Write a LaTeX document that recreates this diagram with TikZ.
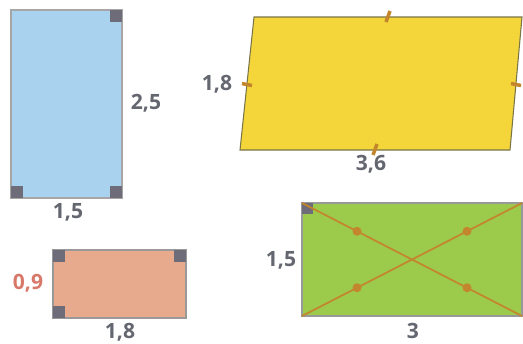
\documentclass[tikz,border=0pt]{standalone}
\usepackage{fontspec}
\setmainfont{Open Sans}
\usetikzlibrary{calc}
\definecolor{bluefill}{HTML}{A8D2EE}
\definecolor{yellowfill}{HTML}{F4D53A}
\definecolor{salmonfill}{HTML}{E8AA8C}
\definecolor{greenfill}{HTML}{9CCB4C}
\definecolor{tickcol}{HTML}{C4862C}
\definecolor{cornercol}{HTML}{6E6C78}
\definecolor{labelgray}{HTML}{646670}
\definecolor{labelred}{HTML}{D8786A}
\tikzset{
  shapeedge/.style={draw=#1, line width=0.6pt},
  rightangle/.style={fill=cornercol},
  dimlabel/.style={text=labelgray, font=\fontsize{12}{12}\selectfont\bfseries, inner sep=1pt},
  tickmark/.style={draw=tickcol, line width=2pt}
}
\begin{document}
\begin{tikzpicture}[x=0.02cm,y=-0.02cm]
\useasboundingbox (0,0) rectangle (523,343);
% blue rectangle
\filldraw[fill=bluefill, shapeedge=gray!70] (11,10) rectangle (122,198);
\fill[rightangle] (110,10) rectangle (122,22);
\fill[rightangle] (11,186) rectangle (23,198);
\fill[rightangle] (110,186) rectangle (122,198);
\node[dimlabel] (blueh) at (146,103) {2,5};
\node[dimlabel] (bluew) at (68,212) {1,5};

% yellow parallelogram
\coordinate (ya) at (254,17);
\coordinate (yb) at (522,17);
\coordinate (yc) at (510,150);
\coordinate (yd) at (240,150);
\filldraw[fill=yellowfill, shapeedge=black!60!yellow] (ya) -- (yb) -- (yc) -- (yd) -- cycle;
\draw[tickmark] ($(ya)!0.5!(yb)+(-2,5)$) -- ($(ya)!0.5!(yb)+(2,-6)$);
\draw[tickmark] ($(yd)!0.5!(yc)+(-2,5)$) -- ($(yd)!0.5!(yc)+(2,-6)$);
\draw[tickmark] ($(yd)!0.5!(ya)+(-5,0)$) -- ($(yd)!0.5!(ya)+(5,2)$);
\draw[tickmark] ($(yc)!0.5!(yb)+(-5,0)$) -- ($(yc)!0.5!(yb)+(5,2)$);
\node[dimlabel] (yellowh) at (217,84) {1,8};
\node[dimlabel] (yelloww) at (371,164) {3,6};

% salmon rectangle
\filldraw[fill=salmonfill, shapeedge=gray!80] (53,250) rectangle (186,318);
\fill[rightangle] (53,250) rectangle (65,262);
\fill[rightangle] (174,250) rectangle (186,262);
\fill[rightangle] (53,306) rectangle (65,318);
\node[dimlabel, text=labelred] (salmonh) at (28,283) {0,9};
\node[dimlabel] (salmonw) at (120,332) {1,8};

% green rectangle with diagonals
\coordinate (ga) at (302,203);
\coordinate (gb) at (522,203);
\coordinate (gc) at (522,316);
\coordinate (gd) at (302,316);
\filldraw[fill=greenfill, shapeedge=gray!80] (ga) rectangle (gc);
\fill[rightangle] (302,203) rectangle (313,214);
\draw[draw=tickcol, line width=1pt] (ga) -- (gc) (gd) -- (gb);
\foreach \p in {0.25,0.75} {
  \fill[tickcol] ($(ga)!\p!(gc)$) circle (4.5);
  \fill[tickcol] ($(gd)!\p!(gb)$) circle (4.5);
}
\node[dimlabel] (greenh) at (281,260) {1,5};
\node[dimlabel] (greenw) at (413,331) {3};
\end{tikzpicture}
\end{document}
